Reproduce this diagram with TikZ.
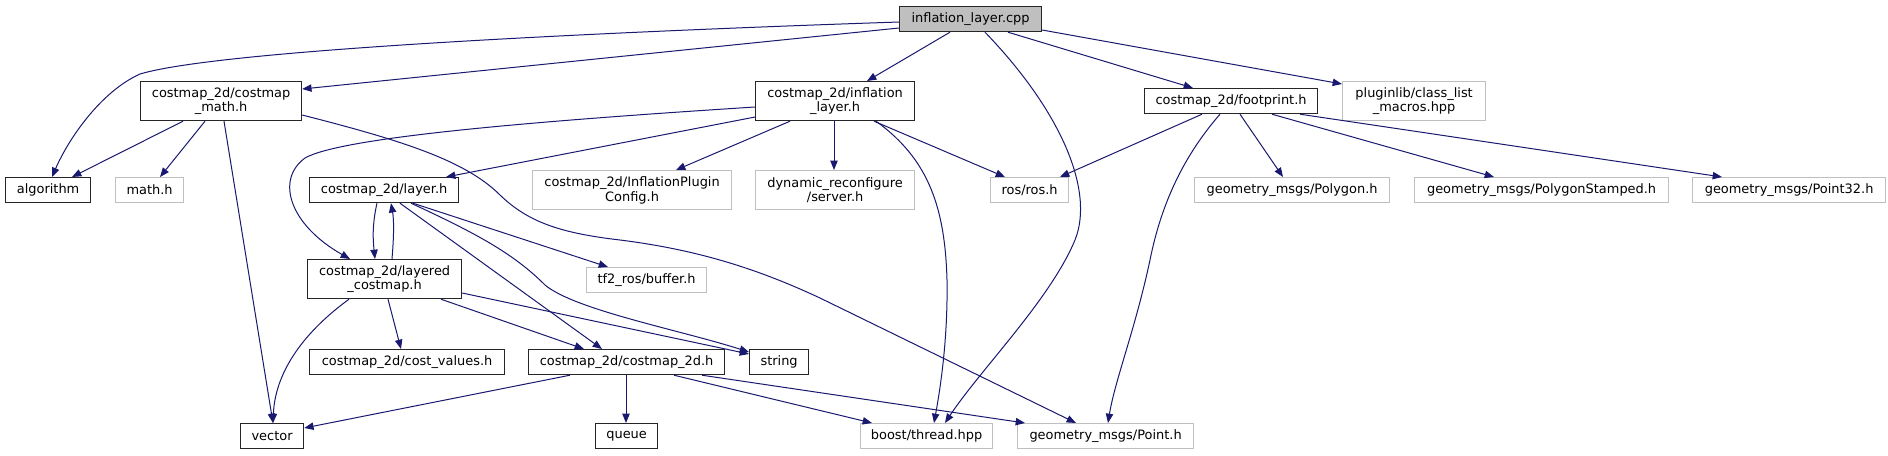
\documentclass[tikz,border=0pt]{standalone}
\usepackage{fontspec}
\setmainfont{DejaVu Sans}
\usetikzlibrary{arrows.meta}
\definecolor{edgec}{HTML}{191970}
\definecolor{gbord}{HTML}{BFBFBF}
\definecolor{gfill}{HTML}{BFBFBF}
\begin{document}
\begin{tikzpicture}[x=0.75pt,y=-0.75pt,
  box/.style={draw=black!85, line width=0.9pt, inner sep=0pt, align=center,
    font=\fontsize{9.7}{11}\selectfont, anchor=north west},
  gbox/.style={box, draw=gbord},
  wd/.style={minimum width=#1*0.75pt},
  ht/.style={minimum height=#1*0.75pt},
  dep/.style={draw=edgec, line width=0.75pt, -{Triangle[length=7pt,width=5.5pt]}}]
\useasboundingbox[fill=white] (0,0) rectangle (1888,455);

% nodes
\node[box, fill=gfill, wd=142, ht=25] (cpp) at (899,6) {inflation\_layer.cpp};
\node[box, wd=161, ht=39] (math) at (140,81) {costmap\_2d/costmap\\\_math.h};
\node[box, wd=159, ht=39] (inflh) at (755,81) {costmap\_2d/inflation\\\_layer.h};
\node[box, wd=173, ht=25] (foot) at (1144,88) {costmap\_2d/footprint.h};
\node[gbox, wd=143, ht=39] (plugin) at (1342,81) {pluginlib/class\_list\\\_macros.hpp};
\node[box, wd=85, ht=25] (algo) at (5,177) {algorithm};
\node[gbox, wd=68, ht=25] (mathh) at (115,177) {math.h};
\node[box, wd=149, ht=25] (layer) at (309,177) {costmap\_2d/layer.h};
\node[gbox, wd=199, ht=39] (ipc) at (532,170) {costmap\_2d/InflationPlugin\\Config.h};
\node[gbox, wd=159, ht=39] (dyn) at (755,170) {dynamic\_reconfigure\\/server.h};
\node[gbox, wd=78, ht=25] (ros) at (990,177) {ros/ros.h};
\node[gbox, wd=195, ht=25] (poly) at (1194,177) {geometry\_msgs/Polygon.h};
\node[gbox, wd=254, ht=25] (polys) at (1414,177) {geometry\_msgs/PolygonStamped.h};
\node[gbox, wd=193, ht=25] (p32) at (1692,177) {geometry\_msgs/Point32.h};
\node[gbox, wd=120, ht=25] (tf2) at (586,267) {tf2\_ros/buffer.h};
\node[box, wd=154, ht=39] (lcm) at (307,259) {costmap\_2d/layered\\\_costmap.h};
\node[box, wd=195, ht=25] (cv) at (309,349) {costmap\_2d/cost\_values.h};
\node[box, wd=196, ht=25] (c2d) at (528,349) {costmap\_2d/costmap\_2d.h};
\node[box, wd=59, ht=25] (str) at (749,349) {string};
\node[box, wd=63, ht=25] (vec) at (240,423) {vector};
\node[box, wd=62, ht=25] (queue) at (595,423) {queue};
\node[gbox, wd=132, ht=25] (boost) at (860,423) {boost/thread.hpp};
\node[gbox, wd=176, ht=25] (point) at (1017,423) {geometry\_msgs/Point.h};

% edges from inflation_layer.cpp
\draw[dep] ([shift={(0,16)}]cpp.north west) .. controls (600,32) and (220,50) .. (140,74)
  .. controls (100,92) and (68,140) .. ([shift={(47,0)}]algo.north west);
\draw[dep] ([shift={(0,22)}]cpp.north west) -- ([shift={(0,8)}]math.north east);
\draw[dep] ([shift={(51,0)}]cpp.south west) -- ([shift={(112,0)}]inflh.north west);
\draw[dep] ([shift={(86,0)}]cpp.south west) .. controls (1060,110) and (1095,190) .. (1075,240)
  .. controls (1050,300) and (980,370) .. ([shift={(85,0)}]boost.north west);
\draw[dep] ([shift={(109,0)}]cpp.south west) -- ([shift={(49,0)}]foot.north west);
\draw[dep] ([shift={(0,24)}]cpp.north east) -- ([shift={(0,3)}]plugin.north west);

% edges from costmap_math.h
\draw[dep] ([shift={(43,0)}]math.south west) -- ([shift={(67,0)}]algo.north west);
\draw[dep] ([shift={(65,0)}]math.south west) -- ([shift={(45,0)}]mathh.north west);
\draw[dep] ([shift={(84,0)}]math.south west) -- ([shift={(33,0)}]vec.north west);
\draw[dep] ([shift={(0,34)}]math.north east) .. controls (400,140) and (465,160) .. (500,195)
  .. controls (528,222) and (560,233) .. (620,240)
  .. controls (700,250) and (760,270) .. (820,298) -- ([shift={(59,0)}]point.north west);

% edges from inflation_layer.h
\draw[dep] ([shift={(0,36)}]inflh.north west) -- ([shift={(137,0)}]layer.north west);
\draw[dep] ([shift={(0,26)}]inflh.north west) .. controls (520,122) and (340,138) .. (305,158)
  .. controls (275,180) and (290,225) .. ([shift={(43,0)}]lcm.north west);
\draw[dep] ([shift={(35,0)}]inflh.south west) -- ([shift={(144,0)}]ipc.north west);
\draw[dep] ([shift={(79,0)}]inflh.south west) -- ([shift={(79,0)}]dyn.north west);
\draw[dep] ([shift={(119,0)}]inflh.south west) -- ([shift={(15,0)}]ros.north west);
\draw[dep] ([shift={(121,0)}]inflh.south west) .. controls (930,160) and (945,210) .. (947,280)
  .. controls (948,340) and (940,390) .. ([shift={(74,0)}]boost.north west);

% edges from footprint.h
\draw[dep] ([shift={(58,0)}]foot.south west) -- ([shift={(70,0)}]ros.north west);
\draw[dep] ([shift={(76,0)}]foot.south west) .. controls (1180,160) and (1160,210) .. (1150,260)
  .. controls (1135,330) and (1115,380) .. ([shift={(91,0)}]point.north west);
\draw[dep] ([shift={(96,0)}]foot.south west) -- ([shift={(89,0)}]poly.north west);
\draw[dep] ([shift={(128,0)}]foot.south west) -- ([shift={(80,0)}]polys.north west);
\draw[dep] ([shift={(156,0)}]foot.south west) .. controls (1420,132) .. ([shift={(30,0)}]p32.north west);

% edges from layer.h
\draw[dep] ([shift={(68,0)}]layer.south west) .. controls (372,225) and (373,240) .. ([shift={(68,0)}]lcm.north west);
\draw[dep] ([shift={(104,0)}]layer.south west) -- ([shift={(22,0)}]tf2.north west);
\draw[dep] ([shift={(91,0)}]layer.south west) -- ([shift={(74,0)}]c2d.north west);
\draw[dep] ([shift={(102,0)}]layer.south west) .. controls (480,235) and (515,255) .. (545,285)
  .. controls (575,310) and (680,330) .. ([shift={(0,3)}]str.north west);

% edges from layered_costmap.h
\draw[dep] ([shift={(85,0)}]lcm.north west) .. controls (394,235) and (394,220) .. ([shift={(82,0)}]layer.south west);
\draw[dep] ([shift={(42,0)}]lcm.south west) .. controls (300,335) and (275,375) .. ([shift={(33,0)}]vec.north west);
\draw[dep] ([shift={(81,0)}]lcm.south west) -- ([shift={(92,0)}]cv.north west);
\draw[dep] ([shift={(134,0)}]lcm.south west) -- ([shift={(56,0)}]c2d.north west);
\draw[dep] ([shift={(0,34)}]lcm.north east) -- ([shift={(0,5)}]str.north west);

% edges from costmap_2d.h
\draw[dep] ([shift={(42,0)}]c2d.south west) -- ([shift={(0,5)}]vec.north east);
\draw[dep] ([shift={(98,0)}]c2d.south west) -- ([shift={(31,0)}]queue.north west);
\draw[dep] ([shift={(146,0)}]c2d.south west) -- ([shift={(12,0)}]boost.north west);
\draw[dep] ([shift={(174,0)}]c2d.south west) -- ([shift={(8,0)}]point.north west);
\end{tikzpicture}
\end{document}
